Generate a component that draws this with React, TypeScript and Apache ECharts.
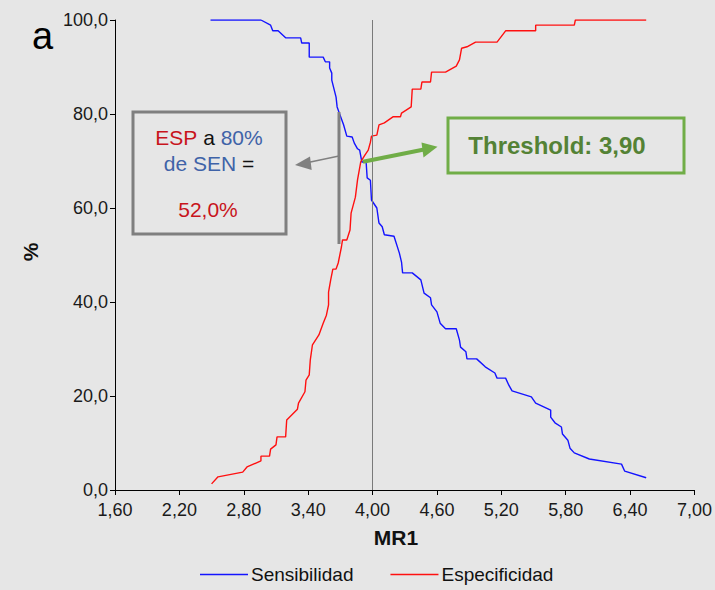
import React, { useEffect, useRef } from "react";
import * as echarts from "echarts";

const xTicks = { min: 1.6, max: 7.0, interval: 0.6 };
const yTicks = { min: 0, max: 100, interval: 20 };

const sensX = [2.49, 2.96, 3.05, 3.07, 3.12, 3.19, 3.33, 3.34, 3.41, 3.41, 3.54, 3.56, 3.60, 3.60, 3.62, 3.62, 3.66, 3.67, 3.69, 3.73, 3.76, 3.81, 3.83, 3.86, 3.88, 3.90, 3.94, 3.95, 3.98, 3.99, 4.04, 4.06, 4.09, 4.11, 4.20, 4.25, 4.27, 4.28, 4.37, 4.45, 4.48, 4.54, 4.55, 4.60, 4.63, 4.68, 4.78, 4.81, 4.82, 4.87, 4.88, 4.97, 5.05, 5.14, 5.16, 5.24, 5.27, 5.30, 5.48, 5.52, 5.66, 5.66, 5.70, 5.76, 5.77, 5.82, 5.84, 5.88, 6.02, 6.32, 6.35, 6.55];
const sensY = [100, 100, 98.9, 97.7, 97.7, 96.2, 96.2, 95.1, 95.1, 92.1, 92.1, 91.1, 91.1, 89.8, 88.7, 87.2, 83.6, 81.5, 80.2, 77.7, 75.3, 75.1, 73.8, 72.6, 72.3, 69.8, 69.8, 66.4, 65.9, 61.7, 60.0, 56.8, 56.0, 54.3, 54.0, 50.4, 48.5, 46.2, 46.2, 44.7, 41.9, 40.9, 39.4, 37.9, 35.5, 34.3, 34.3, 31.9, 30.4, 29.4, 27.9, 27.9, 26.2, 24.9, 23.8, 23.8, 22.3, 21.1, 19.8, 18.5, 17.0, 15.5, 14.3, 13.4, 11.9, 10.6, 8.9, 7.9, 6.6, 5.5, 4.0, 2.6];

const espX = [2.50, 2.56, 2.79, 2.83, 2.96, 2.96, 3.04, 3.05, 3.10, 3.11, 3.19, 3.20, 3.30, 3.31, 3.37, 3.38, 3.41, 3.42, 3.44, 3.50, 3.54, 3.57, 3.59, 3.59, 3.61, 3.63, 3.66, 3.68, 3.71, 3.72, 3.76, 3.79, 3.80, 3.84, 3.86, 3.89, 3.93, 3.96, 3.98, 3.99, 4.04, 4.06, 4.11, 4.19, 4.26, 4.27, 4.36, 4.37, 4.45, 4.46, 4.54, 4.55, 4.68, 4.78, 4.81, 4.83, 4.88, 4.96, 5.16, 5.24, 5.52, 5.52, 5.88, 5.89, 6.55];
const espY = [1.3, 2.8, 3.8, 4.9, 6.2, 7.2, 7.2, 8.7, 9.6, 11.3, 11.3, 14.9, 17.2, 18.5, 20.9, 23.4, 24.5, 27.7, 30.9, 33.0, 35.5, 37.2, 39.4, 42.1, 44.7, 47.0, 47.0, 48.3, 51.7, 53.2, 53.2, 55.3, 58.9, 62.3, 66.0, 69.8, 71.3, 72.3, 74.0, 75.3, 75.5, 77.7, 78.1, 79.4, 79.4, 80.2, 81.5, 85.3, 85.3, 86.8, 86.8, 88.9, 88.9, 90.2, 91.5, 94.0, 94.3, 95.3, 95.3, 97.7, 97.7, 98.9, 98.9, 100, 100];

const seriesNames = ["Sensibilidad", "Especificidad"];
const cutoffLine = 4.0;

const FONT = "'Liberation Sans', Arial, sans-serif";

export default function App() {
  const ref = useRef<HTMLDivElement>(null);
  useEffect(() => {
    if (!ref.current) return;
    const chart = echarts.init(ref.current, null, { renderer: "svg" });
    const zip = (xs: number[], ys: number[]) => xs.map((x, i) => [x, ys[i]]);
    chart.setOption({
      animation: false,
      backgroundColor: "#e6e6e6",
      textStyle: { fontFamily: FONT },
      grid: { left: 115, right: 18, top: 20, bottom: 100 },
      legend: {
        data: seriesNames,
        left: 200,
        top: 565,
        padding: 0,
        icon: "rect",
        itemWidth: 48,
        itemHeight: 1.5,
        itemGap: 37,
        textStyle: { fontSize: 19, color: "#111", fontFamily: FONT, padding: [0, 0, 0, -2] },
      },
      xAxis: {
        type: "value",
        min: xTicks.min,
        max: xTicks.max,
        interval: xTicks.interval,
        axisLine: { lineStyle: { color: "#000", width: 1 } },
        axisTick: { show: true, length: 5, lineStyle: { color: "#000" } },
        splitLine: { show: false },
        axisLabel: {
          fontSize: 18,
          color: "#1a1a1a",
          margin: 11,
          fontFamily: FONT,
          formatter: (v: number) => v.toFixed(2).replace(".", ","),
        },
      },
      yAxis: {
        type: "value",
        min: yTicks.min,
        max: yTicks.max,
        interval: yTicks.interval,
        axisLine: { show: true, lineStyle: { color: "#000", width: 1 } },
        axisTick: { show: true, length: 5, lineStyle: { color: "#000" } },
        splitLine: { show: false },
        axisLabel: {
          fontSize: 18,
          color: "#1a1a1a",
          margin: 7,
          fontFamily: FONT,
          formatter: (v: number) => v.toFixed(1).replace(".", ","),
        },
      },
      series: [
        {
          name: seriesNames[0],
          type: "line",
          data: zip(sensX, sensY),
          showSymbol: false,
          symbol: "none",
          color: "#1414ff",
          lineStyle: { width: 1.4, color: "#1414ff" },
          z: 3,
          markLine: {
            silent: true,
            symbol: ["none", "none"],
            label: { show: false },
            lineStyle: { color: "#7a7a7a", width: 1, type: "solid" },
            data: [{ xAxis: cutoffLine }],
          },
        },
        {
          name: seriesNames[1],
          type: "line",
          data: zip(espX, espY),
          showSymbol: false,
          symbol: "none",
          color: "#ff1010",
          lineStyle: { width: 1.4, color: "#ff1010" },
          z: 3,
        },
      ],
      graphic: [
        { type: "text", left: 32, top: 17, style: { text: "a", fontSize: 38, fill: "#000", fontFamily: FONT } },
        {
          type: "text",
          x: 30,
          y: 252,
          rotation: Math.PI / 2,
          style: { text: "%", fontSize: 21, fontWeight: "bold", fill: "#111", fontFamily: FONT, align: "center", verticalAlign: "middle" },
        },
        {
          type: "text",
          x: 396,
          y: 537,
          style: { text: "MR1", fontSize: 21, fontWeight: "bold", fill: "#111", fontFamily: FONT, align: "center", verticalAlign: "middle" },
        },
        // gray annotation
        { type: "rect", shape: { x: 133, y: 112, width: 153, height: 122 }, style: { fill: "none", stroke: "#7f7f7f", lineWidth: 3 }, z: 10 },
        {
          type: "text",
          x: 209,
          y: 137,
          z: 11,
          style: {
            text: "{r|ESP}{k| a }{b|80%}",
            align: "center",
            verticalAlign: "middle",
            rich: {
              r: { fontSize: 21, fill: "#c8141c", fontFamily: FONT },
              k: { fontSize: 21, fill: "#111", fontFamily: FONT },
              b: { fontSize: 21, fill: "#3f63a8", fontFamily: FONT },
            },
          },
        },
        {
          type: "text",
          x: 209,
          y: 163,
          z: 11,
          style: {
            text: "{b|de SEN}{k| =}",
            align: "center",
            verticalAlign: "middle",
            rich: {
              k: { fontSize: 21, fill: "#111", fontFamily: FONT },
              b: { fontSize: 21, fill: "#3f63a8", fontFamily: FONT },
            },
          },
        },
        {
          type: "text",
          x: 208,
          y: 209,
          z: 11,
          style: { text: "52,0%", fontSize: 21, fill: "#c8141c", fontFamily: FONT, align: "center", verticalAlign: "middle" },
        },
        { type: "line", shape: { x1: 339, y1: 112, x2: 339, y2: 244 }, style: { stroke: "#808080", lineWidth: 3 }, z: 10 },
        { type: "line", shape: { x1: 339, y1: 156, x2: 308, y2: 162.5 }, style: { stroke: "#808080", lineWidth: 1.5 }, z: 10 },
        { type: "polygon", shape: { points: [[295, 165], [310, 156.5], [311.7, 170]] }, style: { fill: "#808080" }, z: 10 },
        // green annotation
        { type: "rect", shape: { x: 448, y: 118, width: 236, height: 55 }, style: { fill: "none", stroke: "#70ad47", lineWidth: 3 }, z: 10 },
        {
          type: "text",
          x: 557,
          y: 145,
          z: 11,
          style: { text: "Threshold: 3,90", fontSize: 24, fontWeight: "bold", fill: "#548235", fontFamily: FONT, align: "center", verticalAlign: "middle" },
        },
        { type: "line", shape: { x1: 363, y1: 161.7, x2: 424, y2: 149.5 }, style: { stroke: "#70ad47", lineWidth: 4 }, z: 10 },
        { type: "polygon", shape: { points: [[437.5, 146.7], [421.5, 142.5], [423.5, 157.5]] }, style: { fill: "#70ad47" }, z: 10 },
      ],
    });
    return () => chart.dispose();
  }, []);
  return <div ref={ref} style={{ position: "absolute", left: 0, top: 0, width: 715, height: 590 }} />;
}
